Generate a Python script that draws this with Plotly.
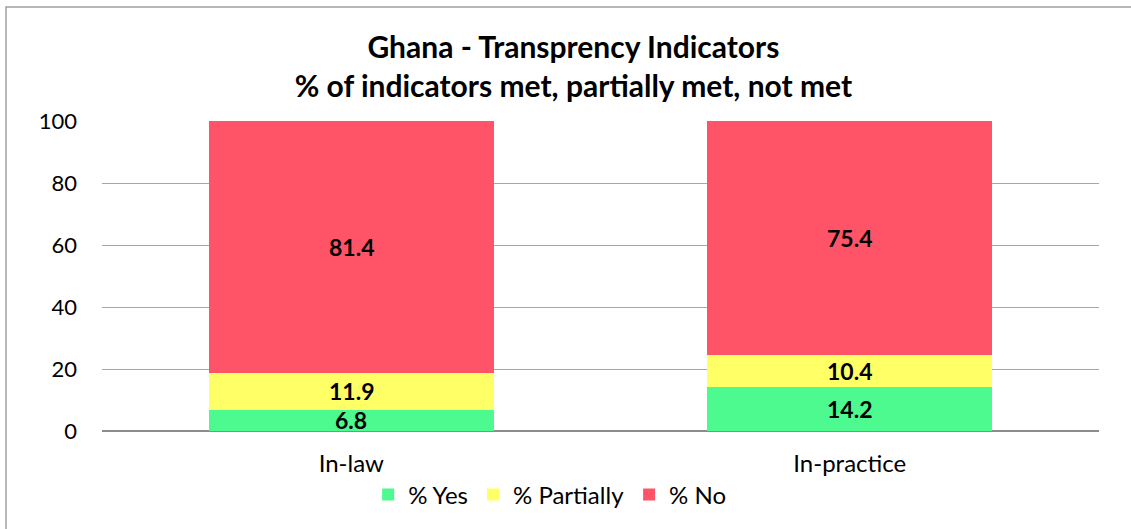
import plotly.graph_objects as go

categories = ["In-law", "In-practice"]
yes_vals = [6.8, 14.2]
partial_vals = [11.9, 10.4]
no_vals = [81.4, 75.4]
series_names = ["% Yes", "% Partially", "% No"]
colors = ["#4DFA8F", "#FFFF66", "#FF5468"]
y_ticks = [0, 20, 40, 60, 80, 100]

FONT = "Lato, Carlito, Calibri, sans-serif"

fig = go.Figure()
series = [yes_vals, partial_vals, no_vals]
for name, vals, col in zip(series_names, series, colors):
    fig.add_trace(go.Bar(
        name=name, x=categories, y=vals,
        marker=dict(color=col, line=dict(width=0)),
        hoverinfo="x+y+name",
    ))

# data labels as annotations at the centre of each stacked segment
annotations = []
for ci, cat in enumerate(categories):
    base = 0.0
    for vals in series:
        v = vals[ci]
        annotations.append(dict(
            x=cat, y=base + v / 2, xref="x", yref="y",
            text=f"<b>{v:.1f}</b>", showarrow=False,
            font=dict(family=FONT, size=23, color="black"),
            xanchor="center", yanchor="middle",
        ))
        base += v

fig.update_layout(
    barmode="stack", bargap=0.428,
    width=1131, height=529,
    margin=dict(l=102, r=32, t=121, b=98),
    paper_bgcolor="white", plot_bgcolor="white",
    font=dict(family=FONT, size=22, color="black"),
    title=dict(
        text="<b>Ghana - Transprency Indicators<br>% of indicators met, partially met, not met</b>",
        x=0.507, xanchor="center", y=0.890, yanchor="middle",
        font=dict(family=FONT, size=30, color="black"),
    ),
    xaxis=dict(showgrid=False, showline=False, ticks="",
               tickfont=dict(family=FONT, size=24), ticklabelstandoff=16),
    yaxis=dict(range=[0, 100], tickvals=y_ticks, showgrid=True,
               gridcolor="#A6A6A6", gridwidth=1, zeroline=True,
               zerolinecolor="#8C8C8C", zerolinewidth=1.5,
               tickfont=dict(family=FONT, size=22), ticklabelstandoff=24),
    legend=dict(orientation="h", x=0.449, xanchor="center", y=-0.206, yanchor="middle",
                font=dict(family=FONT, size=24), traceorder="normal",
                itemwidth=30),
    showlegend=True,
    annotations=annotations,
    shapes=[dict(type="rect", xref="paper", yref="paper",
                 x0=-0.0963, x1=1.04, y0=-0.33, y1=1.3677,
                 line=dict(color="#A0A0A0", width=1.5), layer="below")],
)

fig.write_html("out.html", config={"displayModeBar": False},
               post_script="document.body.style.margin='0';")
